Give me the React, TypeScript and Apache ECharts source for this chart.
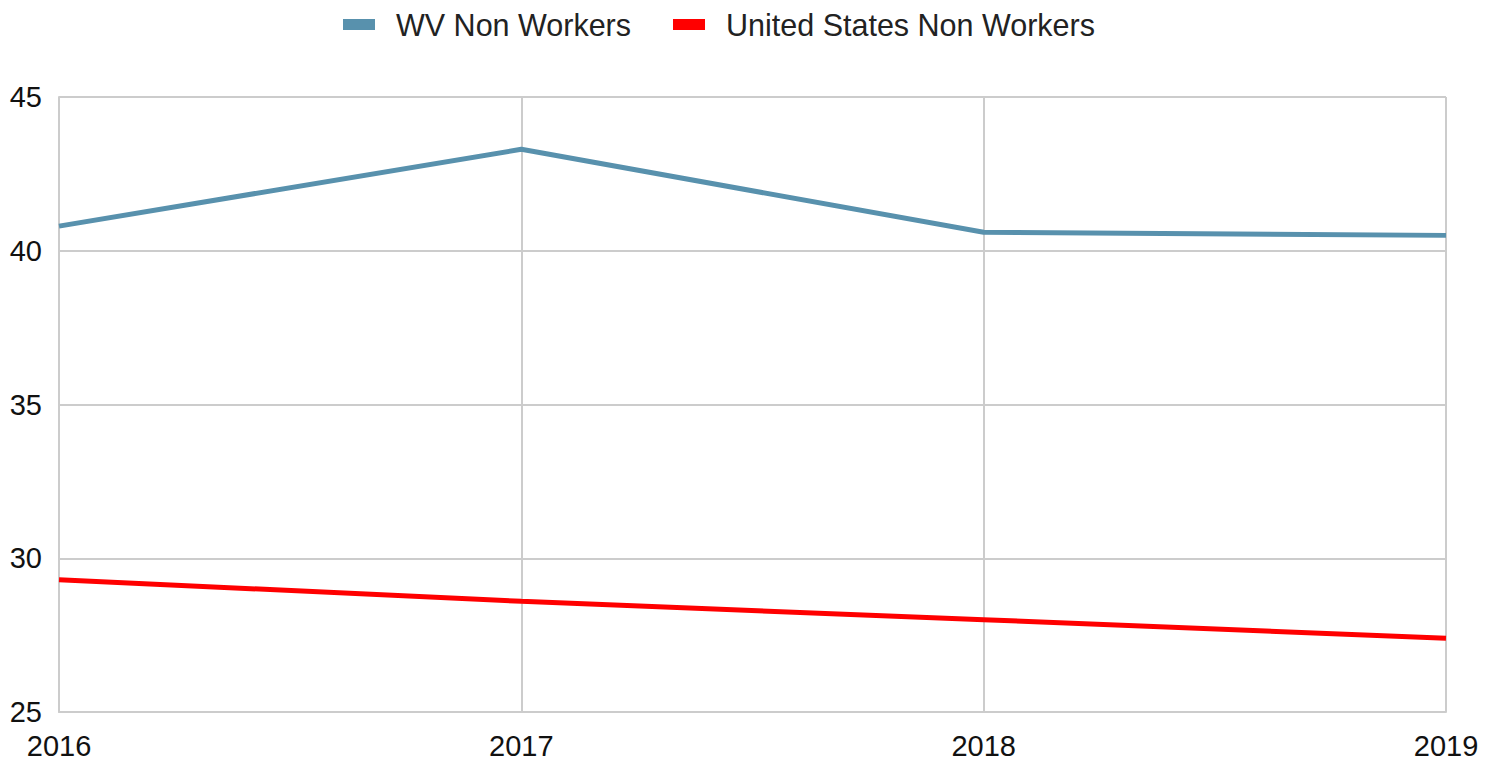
import React, { useEffect, useRef } from "react";
import * as echarts from "echarts";

const years = ["2016", "2017", "2018", "2019"];
const wvNonWorkers = [40.8, 43.3, 40.6, 40.5];
const usNonWorkers = [29.3, 28.6, 28.0, 27.4];

export default function App() {
  const ref = useRef<HTMLDivElement>(null);
  useEffect(() => {
    if (!ref.current) return;
    const chart = echarts.init(ref.current, null, { renderer: "svg" });
    const font = "Liberation Sans, Arial, sans-serif";
    chart.setOption({
      animation: false,
      textStyle: { fontFamily: font },
      legend: {
        top: 4,
        left: 338,
        itemWidth: 32,
        itemHeight: 11,
        itemGap: 42,
        textStyle: {
          fontSize: 30.5,
          color: "#222",
          fontFamily: font,
          padding: [0, 0, 0, 16],
        },
        data: [
          { name: "WV Non Workers", icon: "rect" },
          { name: "United States Non Workers", icon: "rect" },
        ],
      },
      grid: { left: 59, right: 43, top: 97, bottom: 53 },
      xAxis: {
        type: "category",
        data: years,
        boundaryGap: false,
        axisLine: { show: true, lineStyle: { color: "#cccccc", width: 2 } },
        axisTick: { show: false },
        axisLabel: { fontSize: 29, color: "#111", margin: 19, fontFamily: font },
        splitLine: { show: true, lineStyle: { color: "#cccccc", width: 2 } },
      },
      yAxis: {
        type: "value",
        min: 25,
        max: 45,
        interval: 5,
        axisLine: { show: true, lineStyle: { color: "#cccccc", width: 2 } },
        axisTick: { show: false },
        axisLabel: { fontSize: 29, color: "#111", margin: 17, fontFamily: font },
        splitLine: { show: true, lineStyle: { color: "#cccccc", width: 2 } },
      },
      series: [
        {
          name: "WV Non Workers",
          type: "line",
          data: wvNonWorkers,
          showSymbol: false,
          symbol: "none",
          lineStyle: { color: "#5891ad", width: 5 },
          itemStyle: { color: "#5891ad" },
        },
        {
          name: "United States Non Workers",
          type: "line",
          data: usNonWorkers,
          showSymbol: false,
          symbol: "none",
          lineStyle: { color: "#ff0000", width: 5 },
          itemStyle: { color: "#ff0000" },
        },
      ],
    });
    return () => chart.dispose();
  }, []);
  return (
    <div
      ref={ref}
      style={{ position: "fixed", left: 0, top: 0, width: 1489, height: 765, background: "#fff" }}
    />
  );
}
